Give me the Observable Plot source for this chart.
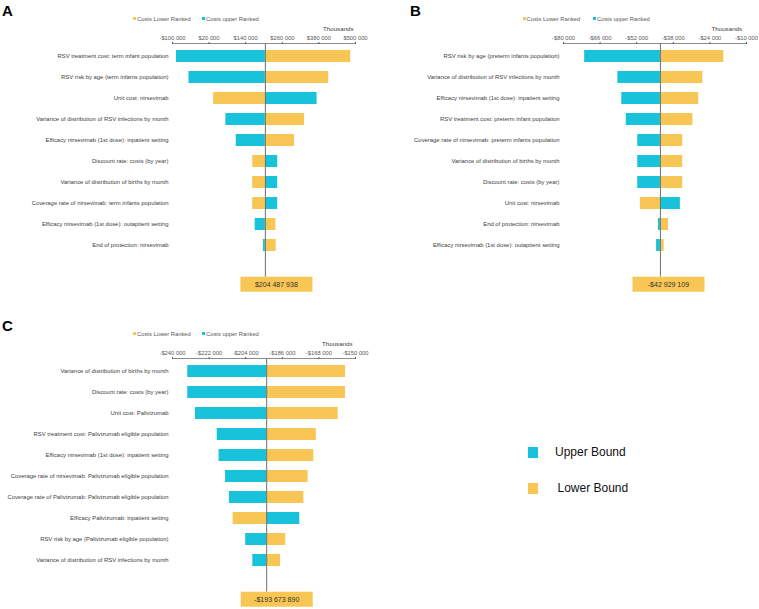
<!DOCTYPE html>
<html><head><meta charset="utf-8">
<script src="https://cdn.jsdelivr.net/npm/d3@7"></script>
<script src="https://cdn.jsdelivr.net/npm/@observablehq/plot@0.6"></script>
<style>
body{margin:0;background:#fff;font-family:"Liberation Sans",Arial,sans-serif;}
#wrap{position:relative;width:759px;height:609px;overflow:hidden;background:#fff;}
.abs{position:absolute;white-space:nowrap;}
.ptitle{font-weight:bold;font-size:15px;line-height:15px;color:#000;}
.leg{font-size:5.8px;line-height:7px;color:#595959;}
.sq{display:inline-block;width:3px;height:3px;margin-right:1px;vertical-align:1px;}
.thou{font-size:6.2px;line-height:8px;color:#404040;}
.big{font-size:12px;line-height:14px;color:#111;}
.bigsq{width:10px;height:11px;}
</style></head><body><div id="wrap"></div>
<script>
// ---------- data (values in thousands) ----------
const colorUpper = "#17c2da";
const colorLower = "#f8c654";

const labelsA = [
  "RSV treatment cost: term infant population",
  "RSV risk by age (term infants population)",
  "Unit cost: nirsevimab",
  "Variance of distribution of RSV infections by month",
  "Efficacy nirsevimab (1st dose): inpatient setting",
  "Discount rate: costs (by year)",
  "Variance of distribution of births by month",
  "Coverage rate of nirsevimab: term infants population",
  "Efficacy nirsevimab (1st dose): outaptient setting",
  "End of protection: nirsevimab"
];
const upperA = [-87000, -46000, 374000, 75000, 109000, 245000, 245000, 245000, 171000, 198000];
const lowerA = [484000, 412000, 35000, 333000, 300000, 163000, 163000, 163000, 239000, 240000];
const baseA = 204487.938;
const baseTextA = "$204 487 938";
const ticksA = [-100000, 20000, 140000, 260000, 380000, 500000];

const labelsB = [
  "RSV risk by age (preterm infants population)",
  "Variance of distribution of RSV infections by month",
  "Efficacy nirsevimab (1st dose): inpatient setting",
  "RSV treatment cost: preterm infant population",
  "Coverage rate of nirsevimab: preterm infants population",
  "Variance of distribution of births by month",
  "Discount rate: costs (by year)",
  "Unit cost: nirsevimab",
  "End of protection: nirsevimab",
  "Efficacy nirsevimab (1st dose): outaptient setting"
];
const upperB = [-71900, -59200, -57700, -56000, -51600, -51600, -51600, -35300, -43700, -44400];
const lowerB = [-18700, -26700, -28300, -30500, -34400, -34400, -34400, -50600, -39800, -41500];
const baseB = -42929.109;
const baseTextB = "-$42 929 109";
const ticksB = [-80000, -66000, -52000, -38000, -24000, -10000];

const labelsC = [
  "Variance of distribution of births by month",
  "Discount rate: costs (by year)",
  "Unit cost: Palivizumab",
  "RSV treatment cost: Palivizumab eligible population",
  "Efficacy nirsevimab (1st dose): inpatient setting",
  "Coverage rate of nirsevimab: Palivizumab eligible population",
  "Coverage rate of Palivizumab: Palivizumab eligible population",
  "Efficacy Palivizumab: inpatient setting",
  "RSV risk by age (Palivizumab eligible population)",
  "Variance of distribution of RSV infections by month"
];
const upperC = [-232500, -232500, -228700, -218000, -217100, -213900, -212000, -177400, -204000, -200500];
const lowerC = [-154900, -154900, -158500, -169300, -170500, -173300, -175400, -210200, -184300, -186900];
const baseC = -193673.890;
const baseTextC = "-$193 673 890";
const ticksC = [-240000, -222000, -204000, -186000, -168000, -150000];

const legendLabels = ["Costs Lower Ranked", "Costs upper Ranked"];
const bigLegend = ["Upper Bound", "Lower Bound"];

// ---------- helpers ----------
const money = v => (v < 0 ? "-" : "") + "$" + d3.format(",")(Math.abs(v)).replace(/,/g, " ");
const wrap = document.getElementById("wrap");
function el(cls, left, top, html) {
  const d = document.createElement("div");
  d.className = "abs " + cls;
  d.style.left = left + "px"; d.style.top = top + "px";
  d.innerHTML = html;
  wrap.appendChild(d);
  return d;
}

function panel(cfg) {
  const rows = cfg.labels.map((label, i) => ({label, upper: cfg.upper[i], lower: cfg.lower[i]}));
  const yDomain = [...cfg.labels, "__gap", "__base"];
  const step = 21.1, pin = 0.43;
  const yStart = cfg.firstRow - step * (1 - pin) / 2;
  const chart = Plot.plot({
    width: cfg.width, height: cfg.height,
    marginLeft: cfg.mL, marginRight: cfg.mR, marginTop: cfg.axisY, marginBottom: cfg.height - cfg.lineEnd,
    style: {fontFamily: "Liberation Sans, Arial, sans-serif", background: "transparent", overflow: "visible"},
    x: {domain: [cfg.ticks[0], cfg.ticks[cfg.ticks.length - 1]], axis: null},
    y: {type: "band", domain: yDomain, range: [yStart, yStart + step * (yDomain.length - pin)], paddingInner: pin, paddingOuter: 0, axis: null},
    marks: [
      Plot.frame({anchor: "top", stroke: "#8c8c8c"}),
      Plot.barX(rows, {y: "label", x1: () => cfg.base, x2: "upper", fill: colorUpper}),
      Plot.barX(rows, {y: "label", x1: () => cfg.base, x2: "lower", fill: colorLower}),
      Plot.ruleX([cfg.base], {stroke: "#6e6e6e", strokeWidth: 1}),
      Plot.axisX({anchor: "top", ticks: cfg.ticks, tickFormat: money, tickSize: 2, tickPadding: 1.5, fontSize: 5.8, color: "#595959", label: null}),
      Plot.axisY({anchor: "left", tickSize: 0, tickPadding: 4, fontSize: 5.9, color: "#404040", label: null,
        ticks: cfg.labels, tickFormat: d => d}),
      Plot.text([cfg.baseText], {x: () => cfg.base, y: () => "__base", dx: cfg.boxDx, dy: -3, fontSize: 7, fill: "#333", text: d => d})
    ]
  });
  chart.style.position = "absolute";
  chart.style.left = cfg.left + "px";
  chart.style.top = cfg.top + "px";
  wrap.appendChild(chart);
  // yellow box behind the base-case value label (same transform as the label)
  chart.querySelectorAll('g[aria-label="text"] text').forEach(t => {
    const b = t.getBBox();
    const r = document.createElementNS("http://www.w3.org/2000/svg", "rect");
    const cx = b.x + b.width / 2, cy = b.y + b.height / 2;
    r.setAttribute("x", cx - 36); r.setAttribute("width", 72);
    r.setAttribute("y", cy - 7.5); r.setAttribute("height", 15);
    r.setAttribute("fill", colorLower);
    const tr = t.getAttribute("transform");
    if (tr) r.setAttribute("transform", tr);
    t.parentNode.insertBefore(r, t);
  });
  // title, legend, unit label
  el("ptitle", cfg.left + cfg.titleX, cfg.top + 3, cfg.title);
  el("leg", cfg.left + cfg.leg1, cfg.top + 15.5, `<span class="sq" style="background:${colorLower}"></span>${legendLabels[0]}`);
  el("leg", cfg.left + cfg.leg2, cfg.top + 15.5, `<span class="sq" style="background:${colorUpper}"></span>${legendLabels[1]}`);
  el("thou", cfg.left + cfg.thouX, cfg.top + 25, "Thousands");
}

panel({title: "A", titleX: 2, labels: labelsA, upper: upperA, lower: lowerA, base: baseA, baseText: baseTextA, ticks: ticksA,
  left: 0, top: 0, width: 380, height: 300, mL: 172, mR: 25, axisY: 43, lineEnd: 276.7, firstRow: 55, boxDx: 11,
  leg1: 133, leg2: 202, thouX: 323});
panel({title: "B", titleX: 30, labels: labelsB, upper: upperB, lower: lowerB, base: baseB, baseText: baseTextB, ticks: ticksB,
  left: 380, top: 0, width: 379, height: 300, mL: 183, mR: 13, axisY: 43, lineEnd: 276.7, firstRow: 55, boxDx: 8,
  leg1: 142.5, leg2: 213, thouX: 331.5});
panel({title: "C", titleX: 2, labels: labelsC, upper: upperC, lower: lowerC, base: baseC, baseText: baseTextC, ticks: ticksC,
  left: 0, top: 315, width: 380, height: 294, mL: 172, mR: 25, axisY: 43, lineEnd: 276.7, firstRow: 55, boxDx: 10,
  leg1: 133, leg2: 202, thouX: 322});

el("big", 527.5, 446, `<span class="sq bigsq" style="background:${colorUpper};vertical-align:-1px"></span>`);
el("big", 555, 444.5, bigLegend[0]);
el("big", 527.5, 482, `<span class="sq bigsq" style="background:${colorLower};vertical-align:-1px"></span>`);
el("big", 557.5, 480.5, bigLegend[1]);
</script>
</body></html>
